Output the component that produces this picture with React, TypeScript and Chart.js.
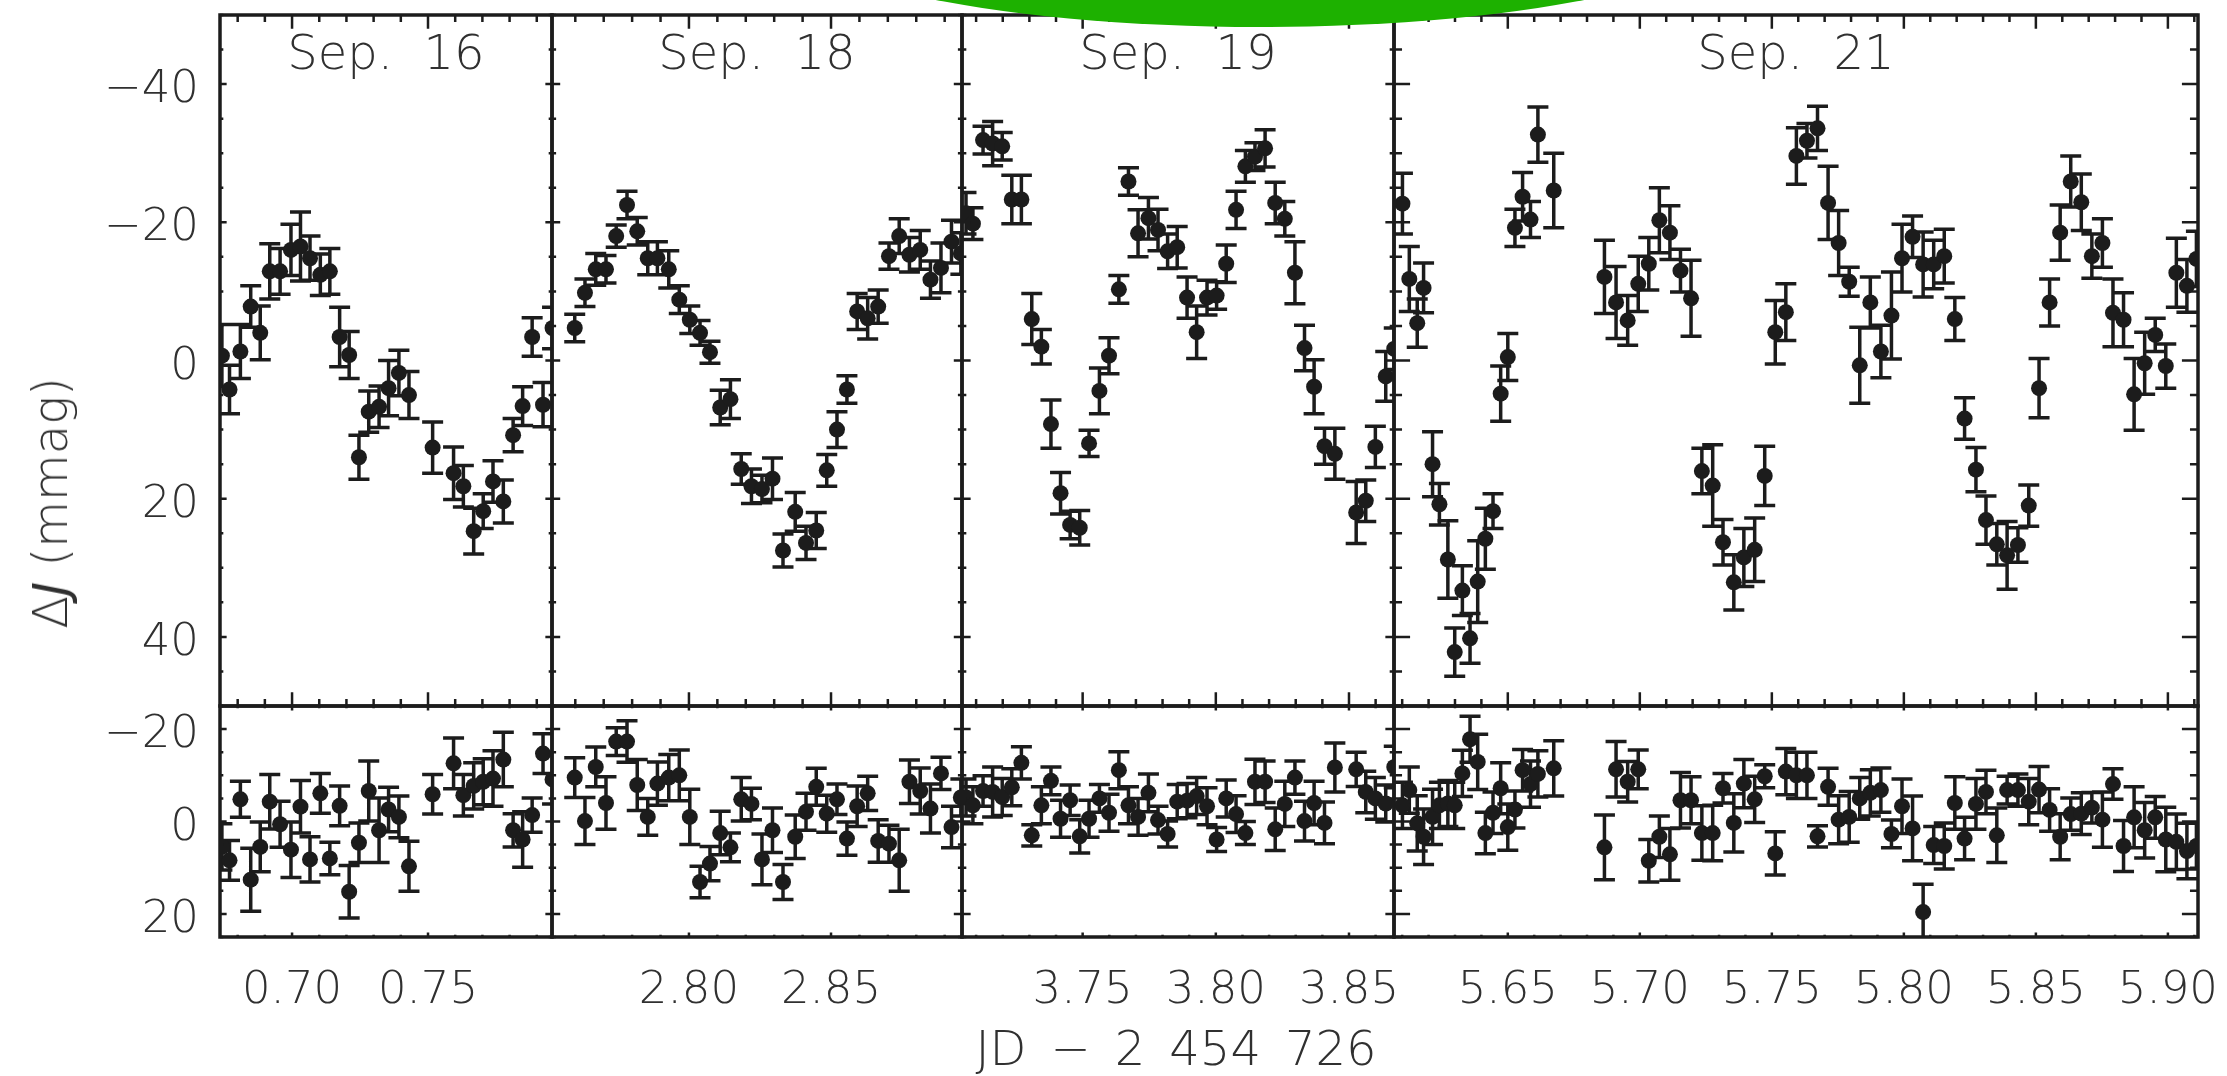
import React, { useEffect, useRef } from "react";
import { Chart, registerables } from "chart.js";

Chart.register(...registerables);

// ---------------- DATA ----------------
const nightLabels = ["Sep.  16", "Sep.  18", "Sep.  19", "Sep.  21"];
const xAxisTitle = "JD\u2002\u2212\u20022\u2002454\u2002726";
const yAxisTitleDelta = "\u0394";
const yAxisTitleVar = "J";
const yAxisTitleUnit = " (mmag)";

const lcYTicks = [-40, -20, 0, 20, 40];
const resYTicks = [-20, 0, 20];

// Sep. 16
const sep16Jd = [0.6742, 0.677, 0.681, 0.6848, 0.6883, 0.6918, 0.6956, 0.6996, 0.7031, 0.7066, 0.7104, 0.7139, 0.7175, 0.721, 0.7246, 0.7282, 0.732, 0.7355, 0.7393, 0.743, 0.7517, 0.7594, 0.763, 0.7668, 0.7703, 0.7739, 0.7777, 0.7813, 0.7848, 0.7883, 0.7923, 0.7958];
const sep16Dj = [-0.7, 4.2, -1.3, -7.8, -4.0, -12.9, -12.9, -16.0, -16.5, -14.8, -12.4, -12.9, -3.4, -0.8, 14.0, 7.4, 6.7, 4.0, 1.8, 5.0, 12.6, 16.3, 18.2, 24.7, 21.8, 17.5, 20.4, 10.8, 6.6, -3.4, 6.4, -4.7];
const sep16DjErr = [4.5, 3.5, 3.9, 3.0, 3.9, 4.0, 3.3, 3.7, 5.0, 3.2, 3.0, 3.3, 4.3, 3.4, 3.2, 3.0, 3.0, 4.0, 3.3, 3.4, 3.7, 3.8, 3.0, 3.3, 2.5, 3.0, 3.1, 2.4, 2.8, 2.8, 3.2, 3.0];
const sep16Res = [5.5, 8.4, -4.8, 12.6, 5.5, -4.3, 0.6, 6.1, -3.2, 8.2, -6.1, 8.0, -3.4, 15.2, 4.6, -6.6, 1.9, -2.6, -1.0, 9.7, -5.9, -12.6, -5.7, -7.7, -8.6, -9.3, -13.4, 1.9, 3.9, -1.4, -14.7, -9.1];
const sep16ResErr = [5.0, 4.3, 3.9, 6.8, 5.4, 5.9, 5.0, 6.0, 5.7, 4.9, 4.3, 3.5, 4.3, 5.7, 4.3, 6.5, 7.0, 4.8, 4.5, 5.4, 4.3, 5.5, 4.5, 5.0, 5.0, 6.0, 5.9, 3.6, 6.0, 3.7, 4.3, 5.3];
const sep16Ticks = [0.7, 0.75];

// Sep. 18
const sep18Jd = [2.7598, 2.7634, 2.7672, 2.7708, 2.7744, 2.7782, 2.7818, 2.7855, 2.7889, 2.7929, 2.7966, 2.8003, 2.8039, 2.8074, 2.811, 2.8146, 2.8184, 2.822, 2.8257, 2.8294, 2.8331, 2.8374, 2.8412, 2.8448, 2.8485, 2.8521, 2.8556, 2.8592, 2.8629, 2.8666, 2.8704, 2.874, 2.8776, 2.8814, 2.885, 2.8887, 2.8924, 2.8957];
const sep18Dj = [-4.7, -9.8, -13.2, -13.2, -18.0, -22.5, -18.7, -14.8, -14.8, -13.2, -8.8, -5.9, -4.0, -1.2, 6.8, 5.6, 15.7, 18.2, 18.6, 17.1, 27.5, 21.9, 26.4, 24.6, 15.9, 10.0, 4.2, -7.1, -6.1, -7.8, -15.1, -18.0, -15.3, -16.0, -11.7, -13.4, -17.2, -15.5];
const sep18DjErr = [2.0, 2.0, 2.3, 2.0, 1.6, 2.0, 2.0, 2.4, 2.4, 2.7, 2.0, 2.0, 1.8, 1.6, 2.5, 2.8, 2.2, 2.5, 2.0, 3.0, 2.4, 2.8, 2.4, 2.6, 2.3, 2.6, 2.0, 2.6, 3.0, 2.4, 1.9, 2.5, 2.5, 2.8, 2.7, 3.6, 3.1, 3.0];
const sep18Res = [-9.5, -0.1, -11.8, -4.0, -17.3, -17.3, -7.9, -1.0, -8.2, -9.5, -10.0, -1.0, 13.1, 9.1, 2.5, 5.6, -4.8, -3.8, 8.2, 1.9, 13.1, 3.3, -2.1, -7.5, -1.7, -4.8, 3.7, -3.3, -6.1, 4.2, 4.8, 8.4, -8.6, -6.6, -2.8, -10.4, 1.2, -5.2];
const sep18ResErr = [4.3, 5.1, 4.3, 5.7, 3.0, 4.5, 5.5, 4.0, 4.7, 5.0, 5.5, 6.0, 3.4, 3.7, 4.7, 3.1, 4.7, 3.4, 5.5, 4.8, 3.8, 4.7, 4.0, 4.0, 4.0, 3.3, 3.6, 4.4, 3.7, 4.6, 4.0, 6.7, 4.7, 5.0, 5.3, 3.5, 4.5, 4.0];
const sep18Ticks = [2.8, 2.85];

// Sep. 19
const sep19Jd = [3.7062, 3.7088, 3.7126, 3.7162, 3.7198, 3.7234, 3.727, 3.7309, 3.7345, 3.7381, 3.7417, 3.7453, 3.7489, 3.7524, 3.7563, 3.7599, 3.7636, 3.7672, 3.7708, 3.7747, 3.7783, 3.7819, 3.7855, 3.7892, 3.7928, 3.7967, 3.8003, 3.8039, 3.8076, 3.8111, 3.8147, 3.8185, 3.8223, 3.8259, 3.8297, 3.8333, 3.8369, 3.8408, 3.8447, 3.8527, 3.8563, 3.8599, 3.8638, 3.867];
const sep19Dj = [-21.3, -19.8, -31.9, -31.4, -31.0, -23.3, -23.3, -6.0, -2.0, 9.2, 19.2, 23.8, 24.2, 12.0, 4.4, -0.7, -10.3, -25.9, -18.4, -20.6, -18.9, -15.8, -16.4, -9.1, -4.1, -9.1, -9.4, -14.0, -21.8, -28.1, -29.5, -30.7, -22.8, -20.5, -12.7, -1.8, 3.8, 12.4, 13.5, 22.0, 20.3, 12.5, 2.3, -1.7];
const sep19DjErr = [3.0, 2.3, 2.0, 3.2, 2.0, 3.5, 3.5, 3.7, 2.5, 3.5, 3.0, 2.0, 2.5, 1.9, 3.3, 2.6, 2.0, 2.0, 3.4, 3.0, 3.0, 2.5, 3.0, 3.0, 3.8, 2.5, 2.0, 2.7, 2.7, 2.3, 2.0, 2.7, 3.0, 2.5, 4.5, 3.3, 3.9, 2.6, 3.7, 4.5, 3.0, 3.0, 3.6, 3.0];
const sep19Res = [-5.2, -3.5, -6.6, -6.4, -5.3, -7.4, -12.7, 3.0, -3.5, -8.8, -0.6, -4.6, 3.2, -0.6, -5.0, -1.9, -11.1, -3.5, -1.0, -6.2, -0.3, 2.7, -4.3, -4.5, -5.5, -3.3, 3.9, -5.0, -1.6, 2.5, -8.6, -8.6, 1.7, -3.8, -9.5, -0.1, -4.0, 0.3, -11.7, -11.3, -6.4, -5.0, -3.9, -11.8];
const sep19ResErr = [4.0, 4.0, 3.3, 5.4, 4.0, 4.0, 3.5, 2.3, 4.0, 3.0, 4.0, 3.3, 3.6, 4.0, 3.0, 4.0, 4.0, 4.0, 4.0, 4.1, 3.0, 2.8, 3.7, 3.7, 4.0, 4.0, 2.6, 4.0, 4.0, 2.5, 4.9, 4.5, 4.6, 4.9, 3.6, 4.3, 4.7, 4.5, 5.3, 3.7, 4.5, 4.5, 4.0, 4.5];
const sep19Ticks = [3.75, 3.8, 3.85];

// Sep. 21
const sep21Jd = [5.6101, 5.6127, 5.6157, 5.6181, 5.6215, 5.6241, 5.6273, 5.6299, 5.6328, 5.6357, 5.6386, 5.6415, 5.6444, 5.6473, 5.65, 5.6527, 5.6556, 5.6586, 5.6614, 5.6674, 5.6866, 5.691, 5.6954, 5.6994, 5.7034, 5.7074, 5.7114, 5.7154, 5.7194, 5.7235, 5.7276, 5.7315, 5.7356, 5.7394, 5.7435, 5.7473, 5.7513, 5.7553, 5.7593, 5.7633, 5.7673, 5.7713, 5.7753, 5.7793, 5.7833, 5.7873, 5.7913, 5.7953, 5.7993, 5.8033, 5.8073, 5.8113, 5.8153, 5.8193, 5.823, 5.8273, 5.8311, 5.8352, 5.8391, 5.8432, 5.8473, 5.8512, 5.8552, 5.8592, 5.8632, 5.8672, 5.8712, 5.8752, 5.8792, 5.8832, 5.8872, 5.8912, 5.8952, 5.8992, 5.9032, 5.9072, 5.9108];
const sep21Dj = [-22.7, -11.8, -5.4, -10.5, 15.0, 20.8, 28.8, 42.2, 33.3, 40.2, 32.0, 25.8, 21.8, 4.8, -0.5, -19.2, -23.7, -20.4, -32.7, -24.6, -12.1, -8.4, -5.8, -11.1, -14.0, -20.3, -18.5, -13.0, -9.0, 16.0, 18.1, 26.3, 32.1, 28.5, 27.4, 16.7, -4.1, -7.0, -29.6, -31.8, -33.6, -22.8, -17.0, -11.4, 0.7, -8.4, -1.3, -6.5, -14.8, -17.9, -13.9, -13.9, -15.1, -6.0, 8.4, 15.8, 23.1, 26.6, 28.2, 26.7, 21.0, 4.0, -8.4, -18.5, -25.9, -22.9, -15.1, -17.0, -6.9, -5.9, 4.9, 0.4, -3.7, 0.8, -12.7, -10.8, -14.7];
const sep21DjErr = [4.4, 4.7, 3.5, 3.6, 4.7, 3.0, 5.6, 3.5, 3.6, 3.6, 5.9, 4.4, 2.5, 4.0, 3.4, 2.7, 3.5, 2.6, 4.0, 5.4, 5.3, 5.2, 3.6, 4.0, 3.8, 4.7, 3.9, 3.1, 5.5, 3.3, 5.9, 3.3, 4.0, 4.2, 4.6, 4.3, 4.6, 4.1, 4.1, 2.5, 3.2, 5.3, 4.7, 2.1, 5.5, 3.7, 3.8, 6.3, 4.9, 3.0, 4.7, 3.5, 3.9, 3.1, 3.0, 3.2, 3.5, 3.0, 4.9, 2.5, 3.0, 4.3, 3.4, 4.0, 3.7, 4.1, 3.2, 3.5, 4.9, 3.9, 5.2, 4.5, 2.4, 3.2, 5.0, 3.8, 4.0];
const sep21Res = [-3.5, -6.8, 0.4, 3.3, -1.0, -3.5, -3.9, -3.5, -10.4, -17.8, -12.9, 2.5, -1.9, -7.2, 1.2, -2.6, -11.1, -8.1, -10.3, -11.5, 5.6, -11.3, -8.6, -11.3, 8.5, 3.3, 7.1, -4.6, -4.6, 2.5, 2.5, -7.2, 0.3, -8.2, -4.8, -9.8, 6.9, -10.8, -10.0, -10.0, 3.2, -7.5, -0.4, -1.0, -5.0, -6.2, -6.8, 2.7, -3.3, 1.5, 19.6, 5.1, 5.3, -4.0, 3.7, -3.8, -6.4, 3.0, -6.8, -6.8, -4.3, -6.9, -2.5, 3.3, -1.6, -1.7, -3.0, -0.4, -8.1, 5.3, -0.9, 1.9, -0.9, 3.9, 4.4, 6.4, 5.3];
const sep21ResErr = [5, 5, 6, 6, 6, 5, 5, 5, 5, 5, 6, 4.5, 4.5, 5.5, 5, 4, 4.5, 5, 5, 6, 7, 6, 4.4, 4.2, 4.6, 4.5, 5.6, 6, 5.1, 5.9, 6, 3.2, 6.3, 5.2, 5, 2.5, 4.7, 5, 5, 5, 2.3, 4, 5.2, 5.5, 4.5, 5, 4.8, 3, 5.9, 7, 6, 4, 5, 5.7, 4.6, 5.5, 4.7, 5.9, 3, 3.5, 5, 5, 4.6, 5, 3.5, 4.5, 3.3, 6, 3.3, 5.5, 6.6, 6, 4.5, 7, 6, 6, 5];
const sep21Ticks = [5.65, 5.7, 5.75, 5.8, 5.85, 5.9];

// ---------------- LAYOUT / STYLE ----------------
const CANVAS_W = 2227;
const CANVAS_H = 1076;
const COL_EDGES = [220, 552, 962, 1394, 2198];
const ROW_EDGES = [15, 706, 937];
const X_RANGES: [number, number][] = [
  [0.6735, 0.7956],
  [2.7518, 2.8961],
  [3.7047, 3.8669],
  [5.6069, 5.9114],
];
const LC_RANGE: [number, number] = [-50, 50];
const RES_RANGE: [number, number] = [-25, 25];

const INK = "#1c1c1c";
const TEXT = "#303030";
const FONT_FAMILY = '"DejaVu Sans", "Noto Sans", sans-serif';
const TICK_FONT = `200 45px ${FONT_FAMILY}`;
const CAP = 10.5;
const ERR_WIDTH = 3.5;
const POINT_RADIUS = 8;

const nights = [
  { label: nightLabels[0], jd: sep16Jd, dj: sep16Dj, djErr: sep16DjErr, res: sep16Res, resErr: sep16ResErr, ticks: sep16Ticks },
  { label: nightLabels[1], jd: sep18Jd, dj: sep18Dj, djErr: sep18DjErr, res: sep18Res, resErr: sep18ResErr, ticks: sep18Ticks },
  { label: nightLabels[2], jd: sep19Jd, dj: sep19Dj, djErr: sep19DjErr, res: sep19Res, resErr: sep19ResErr, ticks: sep19Ticks },
  { label: nightLabels[3], jd: sep21Jd, dj: sep21Dj, djErr: sep21DjErr, res: sep21Res, resErr: sep21ResErr, ticks: sep21Ticks },
];

type PanelSpec = {
  xs: number[];
  ys: number[];
  errs: number[];
  xLabels: number[] | null;
  yLabels: number[] | null;
};

const fmtY = (v: number) => (v < 0 ? "\u2212" + Math.abs(v) : String(v));

function decorPlugin(spec: PanelSpec) {
  return {
    id: "panelDecor",
    beforeDatasetsDraw(chart: any) {
      const { ctx, chartArea: a } = chart;
      const sx = chart.scales.x;
      const sy = chart.scales.y;
      ctx.save();
      ctx.beginPath();
      ctx.rect(a.left, a.top, a.right - a.left, a.bottom - a.top);
      ctx.clip();
      ctx.strokeStyle = INK;
      ctx.lineWidth = ERR_WIDTH;
      ctx.beginPath();
      spec.xs.forEach((xv, i) => {
        const px = sx.getPixelForValue(xv);
        const y1 = sy.getPixelForValue(spec.ys[i] - spec.errs[i]);
        const y2 = sy.getPixelForValue(spec.ys[i] + spec.errs[i]);
        ctx.moveTo(px, y1);
        ctx.lineTo(px, y2);
        ctx.moveTo(px - CAP, y1);
        ctx.lineTo(px + CAP, y1);
        ctx.moveTo(px - CAP, y2);
        ctx.lineTo(px + CAP, y2);
      });
      ctx.stroke();
      ctx.restore();
    },
    afterDraw(chart: any) {
      const { ctx, chartArea: a } = chart;
      const sx = chart.scales.x;
      const sy = chart.scales.y;
      const W = a.right - a.left;
      const H = a.bottom - a.top;
      ctx.save();
      ctx.strokeStyle = INK;
      ctx.lineWidth = 2.5;
      ctx.beginPath();
      const kx0 = Math.ceil(sx.min / 0.01 - 1e-6);
      const kx1 = Math.floor(sx.max / 0.01 + 1e-6);
      for (let k = kx0; k <= kx1; k++) {
        const major = k % 5 === 0;
        const len = (major ? 0.02 : 0.01) * H;
        const px = sx.getPixelForValue(k * 0.01);
        ctx.moveTo(px, a.top);
        ctx.lineTo(px, a.top + len);
        ctx.moveTo(px, a.bottom);
        ctx.lineTo(px, a.bottom - len);
      }
      const lo = Math.min(sy.min, sy.max);
      const hi = Math.max(sy.min, sy.max);
      const ky0 = Math.ceil(lo / 5 - 1e-6);
      const ky1 = Math.floor(hi / 5 + 1e-6);
      for (let k = ky0; k <= ky1; k++) {
        const major = k % 4 === 0;
        const len = (major ? 0.02 : 0.01) * W;
        const py = sy.getPixelForValue(k * 5);
        ctx.moveTo(a.left, py);
        ctx.lineTo(a.left + len, py);
        ctx.moveTo(a.right, py);
        ctx.lineTo(a.right - len, py);
      }
      ctx.stroke();
      ctx.lineWidth = 3.5;
      ctx.strokeRect(a.left, a.top, W, H);

      ctx.fillStyle = TEXT;
      ctx.font = TICK_FONT;
      if (spec.yLabels) {
        ctx.textAlign = "right";
        ctx.textBaseline = "alphabetic";
        spec.yLabels.forEach((v) => {
          ctx.fillText(fmtY(v), a.left - 21, sy.getPixelForValue(v) + 18);
        });
      }
      if (spec.xLabels) {
        ctx.textAlign = "center";
        ctx.textBaseline = "alphabetic";
        spec.xLabels.forEach((v) => {
          ctx.fillText(v.toFixed(2), sx.getPixelForValue(v), a.bottom + 66);
        });
      }
      ctx.restore();
    },
  };
}

export default function App() {
  const refs = useRef<(HTMLCanvasElement | null)[]>([]);

  useEffect(() => {
    const charts: Chart[] = [];
    nights.forEach((n, c) => {
      [0, 1].forEach((r) => {
        const canvas = refs.current[c * 2 + r];
        if (!canvas) return;
        const L = COL_EDGES[c];
        const R = COL_EDGES[c + 1];
        const T = ROW_EDGES[r];
        const B = ROW_EDGES[r + 1];
        const ys = r === 0 ? n.dj : n.res;
        const errs = r === 0 ? n.djErr : n.resErr;
        const yr = r === 0 ? LC_RANGE : RES_RANGE;
        const spec: PanelSpec = {
          xs: n.jd,
          ys,
          errs,
          xLabels: r === 1 ? n.ticks : null,
          yLabels: c === 0 ? (r === 0 ? lcYTicks : resYTicks) : null,
        };
        const chart = new Chart(canvas, {
          type: "scatter",
          data: {
            datasets: [
              {
                data: n.jd.map((x, i) => ({ x, y: ys[i] })),
                pointRadius: POINT_RADIUS,
                pointHoverRadius: POINT_RADIUS,
                backgroundColor: INK,
                borderColor: INK,
                borderWidth: 0,
              },
            ],
          },
          options: {
            animation: false,
            responsive: false,
            devicePixelRatio: 1,
            events: [],
            layout: {
              autoPadding: false,
              padding: { left: L, top: T, right: CANVAS_W - R, bottom: CANVAS_H - B },
            },
            plugins: { legend: { display: false }, tooltip: { enabled: false }, title: { display: false } },
            scales: {
              x: { type: "linear", min: X_RANGES[c][0], max: X_RANGES[c][1], display: false },
              y: { type: "linear", min: yr[0], max: yr[1], reverse: true, display: false },
            },
          } as any,
          plugins: [decorPlugin(spec) as any],
        });
        charts.push(chart);
      });
    });
    return () => charts.forEach((ch) => ch.destroy());
  }, []);

  const textStyle: React.CSSProperties = {
    position: "absolute",
    fontFamily: FONT_FAMILY,
    fontWeight: 200,
    fontSize: 48,
    lineHeight: "48px",
    color: TEXT,
    whiteSpace: "pre",
  };

  return (
    <div
      style={{
        position: "absolute",
        left: 0,
        top: 0,
        width: CANVAS_W,
        height: CANVAS_H,
        overflow: "hidden",
        background: "#ffffff",
      }}
    >
      {Array.from({ length: 8 }).map((_, i) => (
        <canvas
          key={i}
          ref={(el) => {
            refs.current[i] = el;
          }}
          width={CANVAS_W}
          height={CANVAS_H}
          style={{ position: "absolute", left: 0, top: 0, width: CANVAS_W, height: CANVAS_H }}
        />
      ))}
      {nights.map((n, c) => (
        <div
          key={n.label}
          style={{
            ...textStyle,
            left: (COL_EDGES[c] + COL_EDGES[c + 1]) / 2,
            top: 28,
            transform: "translateX(-50%)",
          }}
        >
          {n.label}
        </div>
      ))}
      <div
        style={{
          ...textStyle,
          left: 50,
          top: 503,
          transform: "translate(-50%, -50%) rotate(-90deg)",
        }}
      >
        {yAxisTitleDelta}
        <i>{yAxisTitleVar}</i>
        {yAxisTitleUnit}
      </div>
      <div
        style={{
          ...textStyle,
          left: 1176,
          top: 1024,
          transform: "translateX(-50%)",
        }}
      >
        {xAxisTitle}
      </div>
      <div
        style={{
          position: "absolute",
          left: 760,
          top: -199,
          width: 1000,
          height: 226,
          borderRadius: "50%",
          background: "#1db100",
          zIndex: 5,
        }}
      />
    </div>
  );
}
